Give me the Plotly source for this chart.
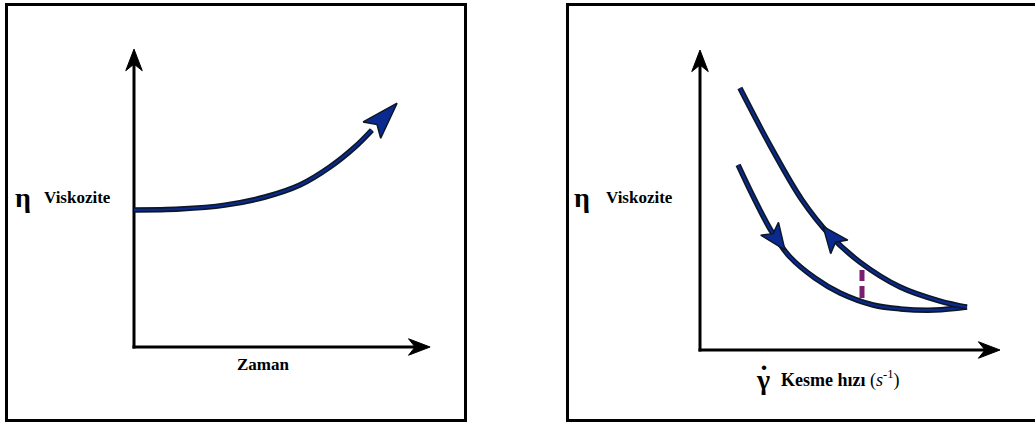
import numpy as np
import plotly.graph_objects as go

W, H = 1035, 423
U = 30.0  # pixels per data unit (same on both axes so arrowheads keep their shape)

# ---- data -------------------------------------------------------------
# Left panel: viscosity rising with time
zaman = [0.0, 1.53, 3.03, 4.37, 5.53, 6.53, 7.37, 7.93, 8.77]
viskozite_zaman = [4.57, 4.60, 4.73, 5.00, 5.40, 6.00, 6.67, 7.23, 8.13]

# Right panel: hysteresis loop, viscosity vs shear rate
kesme_artan = [1.27, 1.83, 2.40, 3.00, 3.83, 4.67, 5.77, 6.67, 7.83, 8.90]
viskozite_artan = [6.17, 5.00, 3.93, 3.10, 2.40, 1.90, 1.50, 1.37, 1.33, 1.43]
kesme_azalan = [1.33, 2.33, 3.40, 4.33, 5.33, 6.67, 8.00, 8.90]
viskozite_azalan = [8.73, 6.83, 5.00, 3.83, 2.93, 2.10, 1.63, 1.43]

# gap between the two branches
fark_x = 5.40
fark_y = [1.73, 2.67]

# where the direction arrows sit on the loop (shear-rate value)
ok_artan_x = 2.83
ok_azalan_x = 4.10

# axis lengths (data units)
sol_eksen = (9.87, 9.93)
sag_eksen = (10.0, 10.0)

NAVY = "#0b2a8f"
DARK = "#0d1726"
PURPLE = "#7a1f6e"

fig = go.Figure()


def domain(origin_px, lo, hi, total, flip=False):
    o = (total - origin_px) if flip else origin_px
    return [(o + U * lo) / total, (o + U * hi) / total]


# panel layouts: origin in pixels
XR = [-1.5, 10.6]
YR = [-1.5, 10.5]
fig.update_layout(
    xaxis=dict(domain=domain(134, *XR, W), range=XR, visible=False),
    yaxis=dict(domain=domain(347, *YR, H, flip=True), range=YR, visible=False),
    xaxis2=dict(domain=domain(700, *XR, W), range=XR, visible=False),
    yaxis2=dict(domain=domain(350, *YR, H, flip=True), range=YR, visible=False, anchor="x2"),
)


def head(tip, d, length, width, notch):
    d = np.asarray(d, float)
    d = d / np.hypot(*d)
    n = np.array([-d[1], d[0]])
    tip = np.asarray(tip, float)
    base = tip - d * length
    c1 = base + n * width / 2
    c2 = base - n * width / 2
    nb = tip - d * (length - notch)
    pts = [tip, c1, nb, c2, tip]
    return [p[0] for p in pts], [p[1] for p in pts]


def add_head(tip, d, length, width, notch, fill, line, lw, xa, ya):
    hx, hy = head(tip, d, length, width, notch)
    fig.add_trace(go.Scatter(x=hx, y=hy, mode="lines", fill="toself", fillcolor=fill,
                             line=dict(color=line, width=lw), hoverinfo="skip",
                             showlegend=False, xaxis=xa, yaxis=ya))


def add_axes(xlen, ylen, xa, ya):
    L, Wd, N = 0.72, 0.55, 0.22
    fig.add_trace(go.Scatter(x=[-0.05, xlen - (L - N)], y=[0, 0], mode="lines",
                             line=dict(color="black", width=3), showlegend=False,
                             hoverinfo="skip", xaxis=xa, yaxis=ya))
    fig.add_trace(go.Scatter(x=[0, 0], y=[-0.05, ylen - (L - N)], mode="lines",
                             line=dict(color="black", width=3), showlegend=False,
                             hoverinfo="skip", xaxis=xa, yaxis=ya))
    add_head((xlen, 0), (1, 0), L, Wd, N, "black", "black", 1, xa, ya)
    add_head((0, ylen), (0, 1), L, Wd, N, "black", "black", 1, xa, ya)


def add_curve(xs, ys, xa, ya):
    for col, w in ((DARK, 5.5), (NAVY, 2.2)):
        fig.add_trace(go.Scatter(x=xs, y=ys, mode="lines",
                                 line=dict(color=col, width=w, shape="spline", smoothing=1),
                                 showlegend=False, hoverinfo="skip", xaxis=xa, yaxis=ya))


def on_curve(xs, ys, x0, sign):
    y0 = np.interp(x0, xs, ys)
    dx = 0.05
    slope = (np.interp(x0 + dx, xs, ys) - np.interp(x0 - dx, xs, ys)) / (2 * dx)
    return (x0, y0), (sign, sign * slope)


# ---- left panel ---------------------------------------------------------
add_axes(*sol_eksen, "x", "y")
add_curve(zaman[:-1], viskozite_zaman[:-1], "x", "y")
tip = (zaman[-1], viskozite_zaman[-1])
dvec = (zaman[-1] - zaman[-2], viskozite_zaman[-1] - viskozite_zaman[-2])
add_head(tip, dvec, 1.23, 0.8, 0.25, NAVY, DARK, 1.5, "x", "y")

# ---- right panel --------------------------------------------------------
add_axes(*sag_eksen, "x2", "y2")
add_curve(kesme_artan, viskozite_artan, "x2", "y2")
add_curve(kesme_azalan, viskozite_azalan, "x2", "y2")
fig.add_trace(go.Scatter(x=[fark_x, fark_x], y=fark_y, mode="lines",
                         line=dict(color=PURPLE, width=5, dash="12px,5px"),
                         showlegend=False, hoverinfo="skip", xaxis="x2", yaxis="y2"))
t, d = on_curve(kesme_artan, viskozite_artan, ok_artan_x, 1)
add_head(t, d, 0.87, 0.73, 0.2, NAVY, DARK, 1.5, "x2", "y2")
t, d = on_curve(kesme_azalan, viskozite_azalan, ok_azalan_x, -1)
add_head(t, d, 0.87, 0.73, 0.2, NAVY, DARK, 1.5, "x2", "y2")

# ---- frames and labels ----------------------------------------------------
def fx(p):
    return p / W


def fy(p):
    return 1 - p / H


frame = dict(type="rect", xref="paper", yref="paper", line=dict(color="black", width=3),
             fillcolor="rgba(0,0,0,0)", layer="below")
fig.add_shape(**frame, x0=fx(6.5), x1=fx(465.5), y0=fy(420.5), y1=fy(4.5))
fig.add_shape(**frame, x0=fx(567.5), x1=fx(1045), y0=fy(420.5), y1=fy(4.5))

SERIF = "Liberation Serif, DejaVu Serif, serif"


def label(text, x, y, size, xanchor="left"):
    fig.add_annotation(text=text, x=fx(x), y=fy(y), xref="paper", yref="paper",
                       xanchor=xanchor, yanchor="middle", showarrow=False,
                       font=dict(family=SERIF, size=size, color="black"))


label("<b>η</b>", 13, 197, 28)
label("<b>Viskozite</b>", 42, 197, 17)
label("<b>η</b>", 572, 197, 28)
label("<b>Viskozite</b>", 604, 197, 17)
label("<b>Zaman</b>", 263, 364, 17, "center")
label("<b>γ</b>", 763, 379, 28, "center")
label("<b>˙</b>", 764, 375, 30, "center")
label("<b>Kesme hızı</b> (<i>s</i><sup>-1</sup>)", 779, 379, 18)

fig.update_layout(width=W, height=H, margin=dict(l=0, r=0, t=0, b=0),
                  paper_bgcolor="white", plot_bgcolor="rgba(0,0,0,0)", autosize=False)

fig.write_html("out.html")
